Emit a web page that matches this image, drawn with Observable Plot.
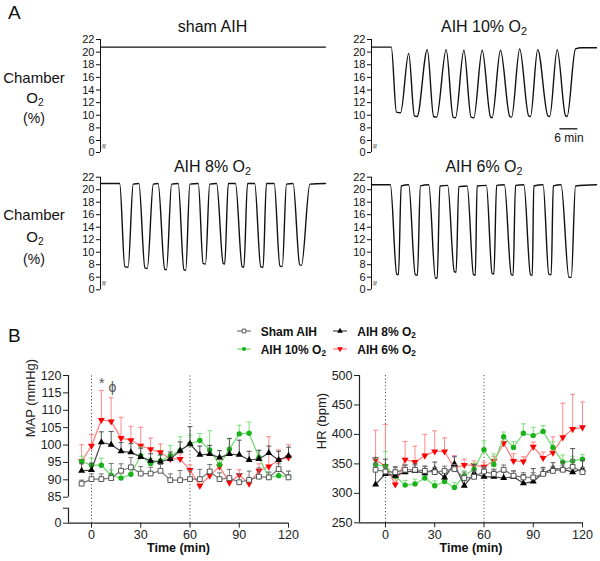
<!DOCTYPE html>
<html><head><meta charset="utf-8">
<script src="https://cdn.jsdelivr.net/npm/d3@7"></script>
<script src="https://cdn.jsdelivr.net/npm/@observablehq/plot@0.6"></script>
<style>
body{margin:0;background:#fff}
#fig{position:relative;width:600px;height:561px;overflow:hidden;font-family:Arial,"Liberation Sans",sans-serif;color:#111;background:#fff}
.t{position:absolute;white-space:nowrap;line-height:1}
.c{transform:translateX(-50%)}
.chart{position:absolute}
sub{font-size:0.68em;vertical-align:-0.28em;line-height:0}
.leg{position:absolute;white-space:nowrap;line-height:1;font-weight:bold;font-size:12px;color:#111}
</style></head><body><div id="fig"></div>
<script>
// ---------- Panel A: chamber O2 traces (time in min, O2 in %) ----------
const shamT = [0, 75];
const shamV = [20.8, 20.8];
const o2_10T = [0, 6.6, 8.3, 9.7, 12.4, 14.3, 15.2, 18.6, 20.7, 21.7, 24.9, 27.2, 28.0, 30.8, 33.2, 34.1, 36.9, 39.7, 40.2, 43.0, 46.1, 46.7, 49.4, 52.4, 53.0, 55.4, 58.8, 59.4, 61.9, 64.7, 65.2, 68.0, 70, 75];
const o2_10V = [20.8, 20.8, 10.5, 10.4, 19.8, 9.9, 9.8, 20.4, 9.8, 9.7, 20.4, 9.7, 9.6, 20.3, 9.7, 9.6, 20.3, 9.7, 9.6, 20.3, 9.8, 9.7, 20.5, 9.9, 9.8, 20.4, 9.9, 9.8, 20.4, 9.9, 9.8, 20.5, 20.7, 20.7];
const o2_8T = [0, 6.4, 8.1, 9.2, 10.9, 12.8, 14.8, 15.6, 17.6, 19.2, 21.4, 22.0, 23.7, 25.9, 27.8, 28.4, 29.8, 32.6, 34.2, 35.0, 36.4, 38.7, 40.9, 41.4, 42.6, 45.0, 47.2, 47.8, 49.0, 51.4, 53.4, 54.2, 55.3, 57.9, 59.8, 60.6, 62.0, 64.2, 66.4, 67.0, 69.8, 75];
const o2_8V = [21, 21, 7.7, 7.6, 20.9, 21, 7.5, 7.4, 20.9, 21, 7.3, 7.2, 20.9, 21, 7.2, 7.1, 20.9, 21, 8.2, 8.1, 20.9, 21, 8.2, 8.1, 21, 21, 7.7, 7.6, 21, 21, 7.7, 7.6, 21, 21, 7.8, 7.7, 20.9, 21, 8.0, 7.9, 20.9, 21];
const o2_6T = [0, 6.3, 8.4, 9.0, 9.9, 12.4, 14.6, 15.3, 16.3, 19.1, 21.3, 21.9, 22.8, 25.4, 27.6, 28.2, 29.1, 31.9, 34.0, 34.6, 35.2, 38.3, 40.2, 40.8, 41.7, 44.3, 46.6, 47.2, 48.0, 50.8, 53.0, 53.6, 54.1, 57.2, 59.1, 59.9, 60.6, 63.2, 65.8, 66.6, 68.0, 75];
const o2_6V = [20.8, 20.8, 6.5, 6.4, 20.6, 20.8, 6.4, 6.3, 20.6, 20.8, 5.6, 5.5, 20.6, 20.7, 6.9, 6.8, 20.5, 20.6, 6.4, 6.3, 20.6, 20.7, 6.6, 6.5, 20.7, 20.8, 6.4, 6.3, 20.7, 20.8, 6.4, 6.3, 20.6, 20.8, 6.5, 6.4, 20.6, 20.8, 6.0, 5.9, 20.6, 20.8];
const o2Ticks = [0, 6, 8, 10, 12, 14, 16, 18, 20, 22];
const scaleBar = {t0: 62.8, len: 6, level: 7.85, label: "6 min", labelLevel: 6.3};

// ---------- Panel B: MAP and HR ----------
const timeB = [-6, 0, 6, 12, 18, 24, 30, 36, 42, 48, 54, 60, 66, 72, 78, 84, 90, 96, 102, 108, 114, 120];
const seriesKeys = ["sham", "o10", "o8", "o6"];
const seriesLabels = {sham: "Sham AIH", o10: "AIH 10% O<sub>2</sub>", o8: "AIH 8% O<sub>2</sub>", o6: "AIH 6% O<sub>2</sub>"};

const mapSham  = [88.9, 90.2, 90.2, 90.5, 92.6, 93.6, 91.8, 91.8, 92.6, 89.9, 89.9, 90.2, 90.2, 92.4, 90.2, 90.5, 89.3, 90.0, 90.9, 90.7, 93.1, 90.7];
const mapShamE = [1.0, 1.5, 1.5, 4.2, 2.0, 2.8, 2.0, 1.8, 1.8, 1.8, 2.8, 2.5, 2.8, 2.0, 1.8, 2.5, 2.5, 2.5, 2.5, 1.5, 1.5, 1.8];
const map8     = [92.6, 92.8, 100.8, 100.1, 98.2, 97.9, 96.6, 95.5, 95.2, 96.0, 98.4, 100.3, 97.2, 97.4, 96.4, 97.4, 97.2, 95.7, 96.0, 97.7, 95.7, 96.9];
const map8E    = [2.0, 2.0, 3.0, 3.8, 2.5, 2.5, 2.5, 2.0, 2.0, 2.0, 2.5, 5.0, 2.5, 2.5, 2.0, 4.5, 4.2, 2.5, 2.5, 2.0, 2.5, 2.5];
const map10    = [95.3, 94.2, 94.2, 91.3, 90.5, 91.6, 96.9, 94.7, 95.5, 96.9, 98.4, 100.3, 101.3, 98.6, 94.3, 98.8, 103.2, 103.4, 96.4, 90.7, 91.2, 90.9];
const map10E   = [1.5, 2.0, 2.0, 1.5, 1.2, 1.5, 2.5, 1.5, 1.5, 3.0, 4.0, 2.5, 2.0, 5.5, 2.5, 3.0, 2.5, 3.2, 2.0, 1.5, 1.5, 1.5];
const map6     = [95.3, 99.8, 107.2, 106.8, 102.0, 101.4, 99.8, 98.8, 97.9, 96.0, 96.0, 92.8, 88.3, 91.2, 93.8, 89.2, 91.4, 88.9, 92.6, 93.8, 95.7, 96.4];
const map6E    = [4.8, 3.2, 8.5, 6.8, 6.0, 4.0, 5.3, 3.2, 2.4, 1.5, 1.5, 1.5, 1.5, 1.5, 2.0, 1.5, 1.5, 1.5, 2.0, 8.6, 2.9, 3.7];

const hrSham   = [340, 337, 336, 340, 340, 338, 336, 338, 341, 326, 328, 337, 333, 340, 330, 327, 327, 333, 338, 340, 345, 336];
const hrShamE  = [10, 8, 8, 8, 8, 8, 8, 8, 8, 10, 10, 8, 8, 8, 8, 8, 8, 8, 8, 8, 12, 8];
const hr8      = [315, 333, 330, 336, 338, 334, 341, 327, 350, 313, 334, 328, 328, 326, 328, 317, 320, 334, 342, 341, 336, 341];
const hr8E     = [46, 25, 15, 12, 12, 12, 12, 12, 12, 10, 15, 15, 12, 10, 10, 15, 22, 10, 10, 12, 40, 15];
const hr10     = [349, 346, 329, 314, 316, 326, 313, 320, 310, 330, 341, 374, 349, 396, 378, 402, 398, 405, 378, 353, 355, 358];
const hr10E    = [10, 25, 8, 8, 8, 8, 8, 8, 8, 8, 10, 15, 18, 8, 10, 16, 14, 10, 10, 12, 8, 8];
const hr6      = [357, 346, 315, 357, 353, 364, 371, 371, 343, 348, 348, 345, 355, 385, 355, 354, 379, 360, 369, 395, 409, 412];
const hr6E     = [50, 71, 10, 31, 27, 36, 35, 23, 21, 10, 7, 8, 8, 10, 12, 8, 8, 10, 27, 58, 59, 43];

const mapAnnT = [6.3, 12.8];
const mapAnnV = [117.6, 116.5];
const mapAnnText = ["*", "ϕ"];

// ---------- styling ----------
const FONT = 'Arial, "Liberation Sans", sans-serif';
const invTriangle = {
  draw(context, size) {
    const s3 = Math.sqrt(3);
    const y = -Math.sqrt(size / (s3 * 3));
    context.moveTo(0, -y * 2);
    context.lineTo(-s3 * y, y);
    context.lineTo(s3 * y, y);
    context.closePath();
  }
};
const styles = {
  sham: {symbol: "square", r: 2.7, fill: "white", stroke: "#555", line: "#777", err: "#777"},
  o8:   {symbol: "triangle", r: 2.6, fill: "#000", stroke: "none", line: "#444", err: "#555"},
  o10:  {symbol: "circle", r: 2.7, fill: "#19b219", stroke: "none", line: "#6fdc6f", err: "#80e080"},
  o6:   {symbol: invTriangle, r: 2.6, fill: "#ff0000", stroke: "none", line: "#ff7a7a", err: "#ff8a8a"}
};
const drawOrder = ["o6", "o10", "o8", "sham"];

const fig = document.getElementById("fig");
function addText(html, o) {
  const d = document.createElement("div");
  d.className = "t" + (o.cx !== undefined ? " c" : "");
  d.style.fontSize = o.size + "px";
  d.style.left = (o.cx !== undefined ? o.cx : o.x) + "px";
  d.style.top = (o.base - 0.85 * o.size) + "px";
  if (o.bold) d.style.fontWeight = "bold";
  d.innerHTML = html;
  fig.appendChild(d);
}
function place(svg, left, top) {
  const d = document.createElement("div");
  d.className = "chart";
  d.style.left = left + "px";
  d.style.top = top + "px";
  d.appendChild(svg);
  fig.appendChild(d);
}

// ---------- Panel A plots ----------
function o2Plot(t, v, p, extra = []) {
  const rows = t.map((x, i) => ({t: x, v: v[i]}));
  return Plot.plot({
    width: p.w, height: p.h,
    marginLeft: 100, marginRight: p.w - 325, marginTop: p.range[2], marginBottom: p.h - p.range[0],
    x: {domain: [0, 75], axis: null},
    y: {type: "linear", domain: [0, 6, 22], range: p.range, ticks: o2Ticks, tickSize: 4, tickPadding: 2, label: null},
    style: {fontFamily: FONT, fontSize: "11px", color: "#111", background: "transparent", overflow: "visible"},
    marks: [
      Plot.ruleX([0], {y1: 0, y2: 22, stroke: "#111", strokeWidth: 1}),
      Plot.text(["≈"], {x: 0, y: 3, dx: 3, rotate: 90, fontSize: 9, fill: "#111"}),
      Plot.line(rows, {x: "t", y: "v", curve: "monotone-x", stroke: "#111", strokeWidth: 1.4}),
      ...extra
    ]
  });
}
const topRange = [142, 130, 29];
const botRange = [139.3, 126.7, 26.7];
place(o2Plot(shamT, shamV, {w: 330, h: 150, range: topRange}), 0, 10);
place(o2Plot(o2_10T, o2_10V, {w: 329, h: 150, range: topRange}, [
  Plot.ruleY([scaleBar.level], {x1: scaleBar.t0, x2: scaleBar.t0 + scaleBar.len, stroke: "#111", strokeWidth: 1.3}),
  Plot.text([scaleBar.label], {x: scaleBar.t0 + scaleBar.len / 2, y: scaleBar.labelLevel, fontSize: 12, fill: "#111"})
]), 271, 10);
place(o2Plot(o2_8T, o2_8V, {w: 330, h: 150, range: botRange}), 0, 150);
place(o2Plot(o2_6T, o2_6V, {w: 329, h: 150, range: botRange}), 271, 150);

// ---------- Panel B plots ----------
function physPlot(o) {
  const cap = 1.5;
  const marks = [
    Plot.ruleX([0, 60], {y1: o.yDomain[0], y2: o.yDomain[o.yDomain.length - 1], stroke: "#333", strokeWidth: 1, strokeDasharray: "1,2.4"})
  ];
  for (const k of drawOrder) {
    const st = styles[k];
    const rows = timeB.map((t, i) => ({t, v: o.values[k][i], e: o.errs[k][i]}));
    marks.push(
      Plot.ruleX(rows, {x: "t", y1: "v", y2: d => d.v + d.e, stroke: st.err, strokeWidth: 1}),
      Plot.link(rows, {x1: d => d.t - cap, x2: d => d.t + cap, y1: d => d.v + d.e, y2: d => d.v + d.e, stroke: st.err, strokeWidth: 1}),
      Plot.line(rows, {x: "t", y: "v", stroke: st.line, strokeWidth: 1.2}),
      Plot.dot(rows, {x: "t", y: "v", symbol: st.symbol, r: st.r, fill: st.fill, stroke: st.stroke, strokeWidth: 1})
    );
  }
  marks.push(
    ...o.axisSegs.map(s => Plot.ruleX([o.xDomain[0]], {y1: s[0], y2: s[1], stroke: "#222", strokeWidth: 1.2})),
    Plot.ruleY([o.yDomain[0]], {stroke: "#222", strokeWidth: 1.2}),
    Plot.text([o.yLabel], {frameAnchor: "left", dx: o.labelDx, dy: o.labelDy, rotate: -90, fontSize: 13, fill: "#222"}),
    Plot.text(["Time (min)"], {frameAnchor: "bottom", dy: 29, fontSize: 12.5, fontWeight: "bold", fill: "#111"}),
    ...(o.extra || [])
  );
  return Plot.plot({
    width: 300, height: 200,
    marginLeft: o.ml, marginRight: 300 - o.xEnd, marginTop: 15, marginBottom: 200 - o.yRange[0],
    x: {domain: o.xDomain, ticks: [0, 30, 60, 90, 120], tickSize: 5, tickPadding: 2, label: null},
    y: {type: "linear", domain: o.yDomain, range: o.yRange, ticks: o.yTicks, tickFormat: o.yFormat, tickSize: 5, tickPadding: 2, label: null},
    style: {fontFamily: FONT, fontSize: "12.5px", color: "#222", background: "transparent", overflow: "visible"},
    marks
  });
}

place(physPlot({
  ml: 68, xEnd: 288, xDomain: [-14, 120],
  yDomain: [0, 85, 120], yRange: [162.7, 136.7, 15],
  yTicks: [0, 49, 85, 90, 95, 100, 105, 110, 115, 120],
  yFormat: d => (d === 49 ? "" : d),
  axisSegs: [[0, 49], [85, 120]],
  values: {sham: mapSham, o8: map8, o10: map10, o6: map6},
  errs: {sham: mapShamE, o8: map8E, o10: map10E, o6: map6E},
  yLabel: "MAP (mmHg)", labelDx: -38, labelDy: -12,
  extra: [Plot.text(mapAnnT.map((t, i) => ({t, v: mapAnnV[i], s: mapAnnText[i]})), {x: "t", y: "v", text: "s", fontSize: 14, fill: "#555"})]
}), 0, 360);

place(physPlot({
  ml: 59, xEnd: 282, xDomain: [-15.8, 120],
  yDomain: [250, 500], yRange: [162.3, 15],
  yTicks: [250, 300, 350, 400, 450, 500],
  yFormat: d => d,
  axisSegs: [[250, 500]],
  values: {sham: hrSham, o8: hr8, o10: hr10, o6: hr6},
  errs: {sham: hrShamE, o8: hr8E, o10: hr10E, o6: hr6E},
  yLabel: "HR (bpm)", labelDx: -37.5, labelDy: 0
}), 300, 360);

// ---------- text labels ----------
addText("A", {x: 8, base: 19, size: 19});
addText("B", {x: 8, base: 342, size: 19});
addText("sham AIH", {cx: 212.5, base: 33, size: 16});
addText("AIH 10% O<sub>2</sub>", {cx: 484, base: 33, size: 16});
addText("AIH 8% O<sub>2</sub>", {cx: 212.5, base: 173, size: 16});
addText("AIH 6% O<sub>2</sub>", {cx: 484, base: 173, size: 16});
for (const b of [[83, 103, 123], [220, 242, 264]]) {
  addText("Chamber", {cx: 34, base: b[0], size: 15});
  addText("O<sub>2</sub>", {cx: 35, base: b[1], size: 15});
  addText("(%)", {cx: 34, base: b[2], size: 14});
}

// ---------- legend ----------
const legendPos = {sham: [236.7, 336], o8: [333.3, 336], o10: [236.7, 354], o6: [333.3, 354]};
for (const k of seriesKeys) {
  const st = styles[k];
  const [x, base] = legendPos[k];
  const ns = "http://www.w3.org/2000/svg";
  const svg = document.createElementNS(ns, "svg");
  svg.setAttribute("width", 14); svg.setAttribute("height", 10);
  svg.style.position = "absolute"; svg.style.left = x + "px"; svg.style.top = (base - 10) + "px";
  const ln = document.createElementNS(ns, "line");
  ln.setAttribute("x1", 0); ln.setAttribute("x2", 14); ln.setAttribute("y1", 5); ln.setAttribute("y2", 5);
  ln.setAttribute("stroke", st.line); ln.setAttribute("stroke-width", 1.2);
  svg.appendChild(ln);
  const sym = typeof st.symbol === "string" ? {square: d3.symbolSquare, triangle: d3.symbolTriangle, circle: d3.symbolCircle}[st.symbol] : st.symbol;
  const p = document.createElementNS(ns, "path");
  p.setAttribute("d", d3.symbol(sym, 14)());
  p.setAttribute("transform", "translate(7,5)");
  p.setAttribute("fill", st.fill); p.setAttribute("stroke", st.stroke);
  svg.appendChild(p);
  fig.appendChild(svg);
  const d = document.createElement("div");
  d.className = "leg";
  d.style.left = (x + 24) + "px";
  d.style.top = (base - 10.2) + "px";
  d.innerHTML = seriesLabels[k];
  fig.appendChild(d);
}
</script></body></html>
